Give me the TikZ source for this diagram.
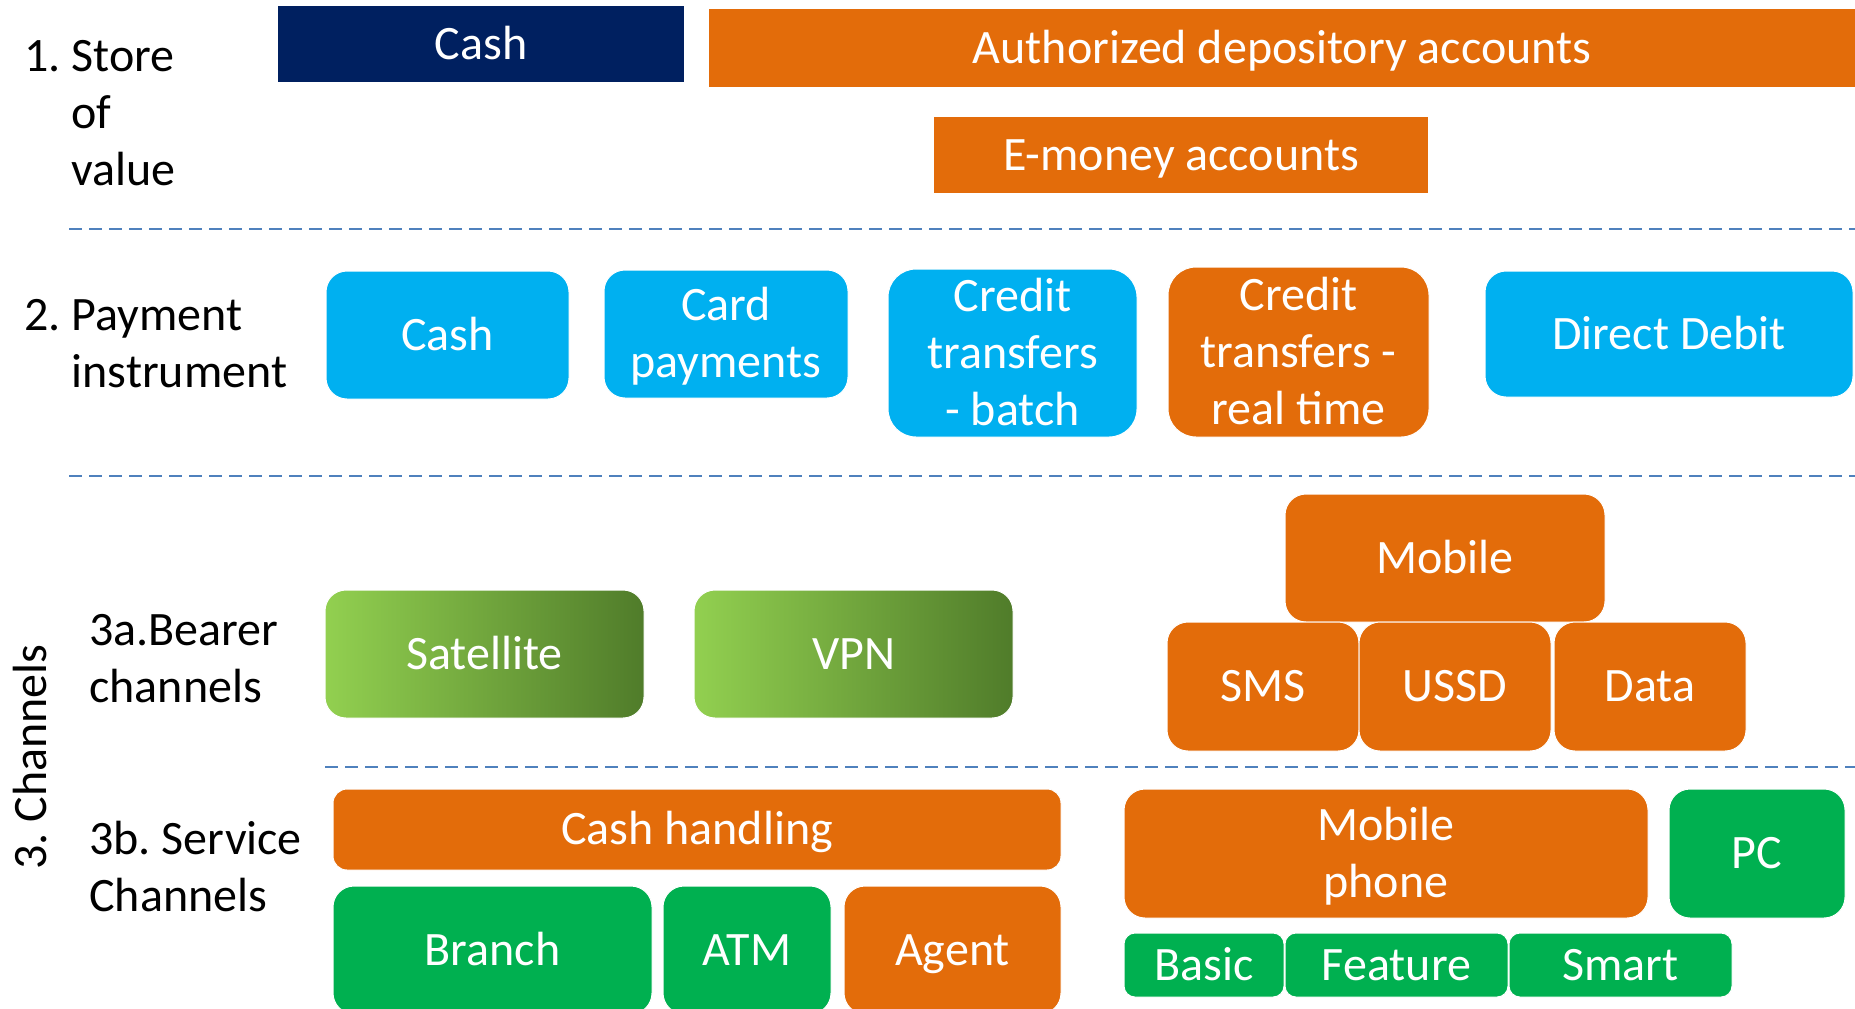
\documentclass[tikz,border=0pt]{standalone}
\usepackage{fontspec}
\setmainfont{Carlito}
\usetikzlibrary{shadings}

\definecolor{navyblue}{HTML}{002060}
\definecolor{accorange}{HTML}{E36C0A}
\definecolor{skyblue}{HTML}{00B0F0}
\definecolor{leafgreen}{HTML}{00B050}
\definecolor{limegreen}{HTML}{92D050}
\definecolor{olivegreen}{HTML}{507C2A}
\definecolor{rulecolor}{HTML}{4F81BD}

% one line of box text: its height is the cap height, with no depth,
% so a block of lines is centred on the middle of its capitals
\newcommand\capln[1]{\rule{0pt}{\fontcharht\font`H}\smash{#1}}

% \pbox{name}{x1}{y1}{x2}{y2}{style}{text}, corners given in pixel units
\newcommand\pbox[7]{%
  \pgfmathsetmacro\pbcx{(#2+#4)/2}%
  \pgfmathsetmacro\pbcy{(#3+#5)/2}%
  \pgfmathsetmacro\pbw{(#4-#2)/2}%
  \pgfmathsetmacro\pbh{(#5-#3)/2}%
  \node[#6, minimum width=\pbw pt, minimum height=\pbh pt] (#1) at (\pbcx,\pbcy) {#7};}

\begin{document}
\frenchspacing
\begin{tikzpicture}[
    x=0.5pt, y=-0.5pt,
    every node/.style={font=\fontsize{24pt}{28.5pt}\selectfont},
    tile/.style={rectangle, inner sep=0pt, align=center, text=white},
    flat/.style={tile, fill=#1},
    round/.style={tile, fill=#1, draw=white, line width=0.5pt, rounded corners=10.5pt},
    tall/.style={round=#1, rounded corners=14pt},
    strip/.style={round=#1, rounded corners=7pt},
    chip/.style={round=#1, rounded corners=5.5pt},
    fade/.style={tile, draw=white, line width=0.5pt, rounded corners=10.5pt,
                 left color=limegreen, right color=olivegreen},
    label/.style={inner sep=0pt, anchor=base west, text=black},
    divider/.style={draw=rulecolor, line width=1pt, dash pattern=on 6.5pt off 3.5pt}
  ]
  \useasboundingbox (0,0) rectangle (1855,1008);

  % section dividers
  \draw[divider] (69,229) -- (1855,229);
  \draw[divider] (69,476) -- (1855,476);
  \draw[divider] (325,767) -- (1855,767);

  % row labels
  \node[label] (lstore) at (24,71)
    {\begin{tabular}[t]{@{}l@{ }l@{}}1.&Store\\&of\\&value\end{tabular}};
  \node[label] (lpay) at (24,330)
    {\begin{tabular}[t]{@{}l@{ }l@{}}2.&Payment\\&instrument\end{tabular}};
  \node[label] (lbearer) at (89,645)
    {\begin{tabular}[t]{@{}l@{}}3a.Bearer\\channels\end{tabular}};
  \node[label] (lservice) at (89,854)
    {\begin{tabular}[t]{@{}l@{}}3b. Service\\Channels\end{tabular}};
  \node[inner sep=0pt, rotate=90] (lchannels) at (31,757) {\capln{3. Channels}};

  % 1. store of value
  \pbox{svcash}{278}{6}{684}{82}{flat=navyblue}{\capln{Cash}}
  \pbox{svauth}{709}{9}{1855}{87}{flat=accorange}{\capln{Authorized depository accounts}}
  \pbox{svemoney}{934}{117}{1428}{193}{flat=accorange}{\capln{E-money accounts}}

  % 2. payment instruments
  \pbox{picash}{326}{271}{569}{399}{round=skyblue}{\capln{Cash}}
  \pbox{picard}{604}{270}{848}{398}{round=skyblue}{\capln{Card}\\\capln{payments}}
  \pbox{pibatch}{888}{269}{1137}{437}{tall=skyblue}{\capln{Credit}\\\capln{transfers}\\\capln{- batch}}
  \pbox{pireal}{1168}{267}{1429}{437}{tall=accorange}{\capln{Credit}\\\capln{transfers -}\\\capln{real time}}
  \pbox{pidebit}{1485}{271}{1853}{397}{round=skyblue}{\capln{Direct Debit}}

  % 3a. bearer channels
  \pbox{bcsat}{325}{590}{644}{718}{fade}{\capln{Satellite}}
  \pbox{bcvpn}{694}{590}{1013}{718}{fade}{\capln{VPN}}
  \pbox{bcmobile}{1285}{494}{1605}{622}{round=accorange}{\capln{Mobile}}
  \pbox{bcsms}{1167}{622}{1359}{751}{round=accorange}{\capln{SMS}}
  \pbox{bcussd}{1359}{622}{1551}{751}{round=accorange}{\capln{USSD}}
  \pbox{bcdata}{1554}{622}{1746}{751}{round=accorange}{\capln{Data}}

  % 3b. service channels
  \pbox{sccash}{333}{789}{1061}{870}{strip=accorange}{\capln{Cash handling}}
  \pbox{scbranch}{333}{886}{652}{1014}{round=leafgreen}{\capln{Branch}}
  \pbox{scatm}{663}{886}{831}{1014}{round=leafgreen}{\capln{ATM}}
  \pbox{scagent}{844}{886}{1061}{1014}{round=accorange}{\capln{Agent}}
  \pbox{scphone}{1124}{789}{1648}{918}{round=accorange}{\capln{Mobile}\\\capln{phone}}
  \pbox{scpc}{1669}{789}{1845}{918}{round=leafgreen}{\capln{PC}}
  \pbox{scbasic}{1124}{933}{1284}{997}{chip=leafgreen}{\capln{Basic}}
  \pbox{scfeature}{1285}{933}{1508}{997}{chip=leafgreen}{\capln{Feature}}
  \pbox{scsmart}{1509}{933}{1732}{997}{chip=leafgreen}{\capln{Smart}}
\end{tikzpicture}
\end{document}
